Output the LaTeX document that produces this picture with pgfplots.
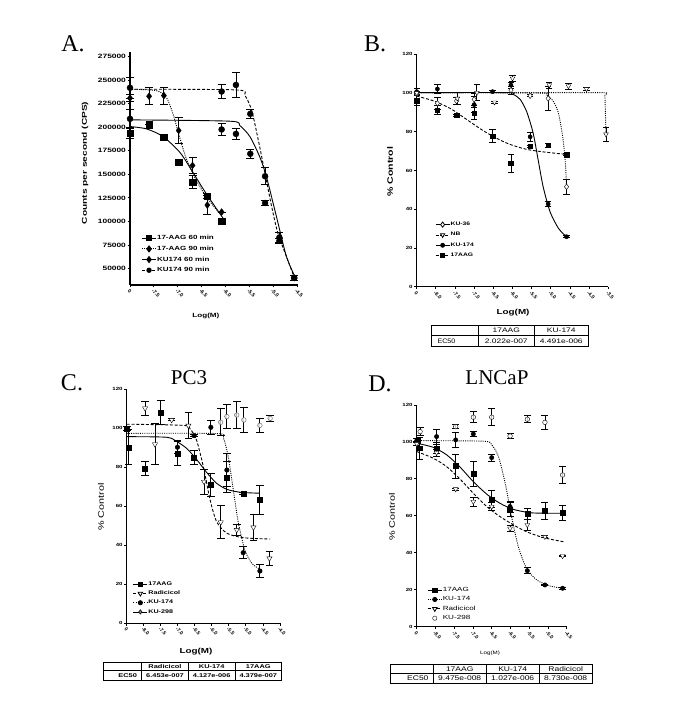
\documentclass[border=0pt]{standalone}
\usepackage{fontspec}
\setmainfont{Liberation Serif}
\setsansfont{Liberation Sans}
\usepackage{pgfplots}
\pgfplotsset{compat=1.18}
\usetikzlibrary{plotmarks}
\newcommand{\sx}[2][1.35]{\scalebox{#1}[1]{#2}}
\pgfplotsset{
  gp/.style={
    scale only axis, anchor=south west,
    axis x line*=bottom, axis y line*=left,
    axis line style={line width=1.1pt,-},
    tick align=outside, major tick length=2.5pt,
    tick style={line width=0.9pt,black},
    scaled y ticks=false, scaled x ticks=false,
    /pgf/number format/assume math mode=true,
    ticklabel style={font=\sffamily\bfseries\fontsize{4.5}{5}\selectfont},
    yticklabel style={xscale=1.35, inner sep=1pt},
    xticklabel style={rotate=-45, anchor=north west, inner sep=0.8pt, font=\sffamily\bfseries\fontsize{5}{5.5}\selectfont},
    clip=false,
    legend cell align=left,
    legend image code/.code={\draw[mark repeat=2,mark phase=2,##1] plot coordinates {(0pt,0pt) (7pt,0pt) (14pt,0pt)};},
    error bars/error bar style={line width=0.9pt},
    error bars/error mark options={line width=0.9pt, mark size=3.5pt, rotate=90},
    xlabel style={anchor=center},
    ylabel style={anchor=center},
  },
  pts/.style={only marks, black, error bars/y dir=both, error bars/y explicit},
  fit/.style={no marks, smooth, tension=0.45, line width=0.9pt, black},
  dsh/.style={dash pattern=on 3pt off 1.8pt},
  dtt/.style={dash pattern=on 1pt off 1.2pt},
}
\begin{document}
\begin{tikzpicture}
\useasboundingbox (0pt,0pt) rectangle (685pt,709pt);
\fill[white] (0pt,0pt) rectangle (685pt,709pt);

% ================= A =================
\begin{axis}[gp, at={(130pt,424pt)}, width=168pt, height=233pt,
  xmin=-8, xmax=-4.48, ymin=32500, ymax=280000,
  xtick={-8,-7.5,-7,-6.5,-6,-5.5,-5,-4.5},
  xticklabels={0,-7.5,-7.0,-6.5,-6.0,-5.5,-5.0,-4.5},
  ytick={50000,75000,100000,125000,150000,175000,200000,225000,250000,275000},
  yticklabels={50000,75000,100000,125000,150000,175000,200000,225000,250000,275000},
  yticklabel style={font=\sffamily\bfseries\fontsize{6.2}{7}\selectfont},
  xticklabel style={font=\sffamily\bfseries\fontsize{5.2}{5.6}\selectfont},
  error bars/error mark options={line width=0.9pt, mark size=4pt, rotate=90},
  ylabel={\sx[1.45]{Counts per second (CPS)}},
  ylabel style={at={(axis description cs:-0.268,0.524)}, font=\sffamily\bfseries\fontsize{7}{8}\selectfont},
  xlabel={\sx{Log(M)}},
  xlabel style={at={(axis description cs:0.452,-0.133)}, font=\sffamily\bfseries\fontsize{6}{7}\selectfont},
  legend style={draw=none, fill=none, at={(0.05,0.225)}, anchor=north west,
    font=\sffamily\bfseries\fontsize{6}{7}\selectfont, row sep=3.6pt, nodes={inner sep=0.6pt}},
]
\addlegendimage{mark=square*, solid, mark size=2.6pt, line width=0.9pt}
\addlegendentry{\sx[1.33]{17-AAG 60 min}}
\addlegendimage{mark=diamond*, dtt, mark size=3pt, line width=0.9pt, mark options={solid}}
\addlegendentry{\sx[1.33]{17-AAG 90 min}}
\addlegendimage{mark=diamond*, solid, mark size=3pt, line width=0.9pt}
\addlegendentry{\sx[1.33]{KU174 60 min}}
\addlegendimage{mark=*, dsh, mark size=2.2pt, line width=0.9pt, mark options={solid}}
\addlegendentry{\sx[1.33]{KU174 90 min}}
% fits
\addplot[fit] coordinates {(-8.0,200800) (-7.66,198400) (-7.31,190300) (-6.96,173700) (-6.75,157800) (-6.47,134800) (-6.19,113600) (-6.01,100600)};
\addplot[fit, dtt] coordinates {(-8.0,240400) (-7.45,239000) (-7.24,231900) (-7.10,214300) (-6.96,189500) (-6.82,166600) (-6.61,143600) (-6.40,126000) (-6.15,110100)};
\addplot[fit] coordinates {(-8.0,207900) (-5.91,206500) (-5.70,201900) (-5.49,190300) (-5.28,168400) (-5.14,147200) (-4.93,104800) (-4.72,62400) (-4.51,37700)};
\addplot[fit, dsh] coordinates {(-8.0,240400) (-5.77,239700) (-5.59,233700) (-5.45,217800) (-5.31,186000) (-5.17,150700) (-5.03,115400) (-4.90,87100) (-4.72,62400) (-4.55,39500)};
% points
\addplot[pts, mark=square*, mark size=3.2pt] coordinates {
(-8.0,194000) +- (0,6000) (-7.60,202600) +- (0,0) (-7.29,189500) +- (0,0) (-6.98,162700) +- (0,0)
(-6.69,141900) +- (0,7000) (-6.38,127000) +- (0,3000) (-6.08,100200) +- (0,2000)};
\addplot[pts, mark=diamond*, mark size=3.4pt] coordinates {
(-8.0,231000) +- (0,4000) (-7.60,233000) +- (0,9000) (-7.29,233700) +- (0,9000) (-6.98,196600) +- (0,14000)
(-6.69,159500) +- (0,9000) (-6.38,117400) +- (0,10000) (-6.08,110000) +- (0,0)};
\addplot[pts, mark=*, mark size=3pt] coordinates {
(-8.0,209000) +- (0,10000) (-6.08,197700) +- (0,6000) (-5.78,193000) +- (0,6000) (-5.48,171900) +- (0,5000)
(-5.17,119600) +- (0,3000) (-4.87,79400) +- (0,3000) (-4.56,40000) +- (0,3000)};
\addplot[pts, mark=*, mark size=3pt] coordinates {
(-8.0,242000) +- (0,11000) (-6.08,238000) +- (0,7000) (-5.78,245000) +- (0,13000) (-5.48,214300) +- (0,5000)
(-5.17,148000) +- (0,9000) (-4.87,83000) +- (0,5000) (-4.56,40000) +- (0,3000)};
\end{axis}

% ================= B =================
\begin{axis}[gp, at={(416.7pt,422.3pt)}, width=191.6pt, height=232.4pt,
  xmin=-8.5, xmax=-3.5, ymin=0, ymax=120,
  xtick={-8.5,-8,-7.5,-7,-6.5,-6,-5.5,-5,-4.5,-4,-3.5},
  xticklabels={0,-8.0,-7.5,-7.0,-6.5,-6.0,-5.5,-5.0,-4.5,-4.0,-3.5},
  ytick={0,20,40,60,80,100,120},
  error bars/error mark options={line width=0.9pt, mark size=3.2pt, rotate=90},
  ylabel={\sx{\% Control}},
  ylabel style={at={(axis description cs:-0.139,0.494)}, font=\sffamily\bfseries\fontsize{7.8}{9}\selectfont},
  xlabel={\sx{Log(M)}},
  xlabel style={at={(axis description cs:0.503,-0.113)}, font=\sffamily\bfseries\fontsize{7.3}{9}\selectfont},
  legend style={draw=none, fill=none, at={(0.08,0.29)}, anchor=north west,
    font=\sffamily\bfseries\fontsize{5}{6}\selectfont, row sep=4.2pt, nodes={inner sep=0.6pt}},
]
\addlegendimage{mark=diamond*, solid, mark size=2.6pt, line width=0.8pt, mark options={fill=white}}
\addlegendentry{\sx{KU-36}}
\addlegendimage{mark=triangle*, dsh, mark size=2.5pt, line width=0.8pt, mark options={solid, fill=white, rotate=180}}
\addlegendentry{\sx{NB}}
\addlegendimage{mark=*, solid, mark size=2pt, line width=0.8pt}
\addlegendentry{\sx{KU-174}}
\addlegendimage{mark=square*, dsh, mark size=2pt, line width=0.8pt, mark options={solid}}
\addlegendentry{\sx{17AAG}}
\addplot[fit] coordinates {(-8.5,100.2) (-6.15,100.2) (-5.98,99.3) (-5.80,96.7) (-5.63,90.4) (-5.46,79.2) (-5.33,65.4) (-5.20,51.6) (-5.02,38.7) (-4.80,30.1) (-4.59,25.8)};
\addplot[fit, dsh] coordinates {(-8.5,98.4) (-8.07,96.0) (-7.63,92.1) (-7.20,86.4) (-6.76,80.5) (-6.41,76.6) (-6.07,73.5) (-5.63,70.9) (-5.11,69.4) (-4.59,68.3)};
\addplot[fit, dtt] coordinates {(-8.5,100.2) (-5.37,100.0) (-5.11,99.0) (-4.93,95.5) (-4.80,89.5) (-4.69,77.4) (-4.62,63.7) (-4.59,51.6)};
\addplot[fit, dtt, tension=0.2] coordinates {(-8.5,100.2) (-3.67,100.2) (-3.59,98.5) (-3.56,78.7)};
\addplot[pts, mark=square*, mark size=2.3pt] coordinates {
(-8.5,96) +- (0,2.5) (-7.96,91.2) +- (0,2.5) (-7.46,88.6) +- (0,0.5) (-7.0,89.5) +- (0,3)
(-6.52,77.8) +- (0,3.5) (-6.04,63.7) +- (0,4.5) (-5.54,72.6) +- (0,0.5) (-5.07,73.1) +- (0,1) (-4.59,68.3) +- (0,0.5)};
\addplot[pts, mark=*, mark size=2.1pt] coordinates {
(-8.5,100.7) +- (0,1.5) (-7.96,102.1) +- (0,2.5) (-7.0,94) +- (0,4) (-6.52,100.7) +- (0,0.5)
(-6.04,104.1) +- (0,1.5) (-5.54,77.4) +- (0,2.5) (-5.07,42.7) +- (0,1.5) (-4.59,25.8) +- (0,0.5)};
\addplot[pts, mark=diamond*, mark size=2.8pt, mark options={fill=white}] coordinates {
(-8.5,99.5) +- (0,1) (-7.96,94.7) +- (0,3) (-7.46,95.9) +- (0,2) (-7.0,96.7) +- (0,3)
(-6.04,101.5) +- (0,2) (-5.54,98.6) +- (0,0.5) (-5.07,97.2) +- (0,6) (-4.59,51.6) +- (0,4)};
\addplot[pts, mark=triangle*, mark size=2.7pt, mark options={fill=white, rotate=180}] coordinates {
(-8.5,100) +- (0,1) (-7.44,97.2) +- (0,3) (-6.93,100.2) +- (0,4) (-6.47,95.2) +- (0,0.5)
(-6.0,107.6) +- (0,1.5) (-5.04,104.1) +- (0,1.5) (-4.54,103.6) +- (0,1.5) (-4.07,102.1) +- (0,1) (-3.56,78.7) +- (0,3.5)};
\end{axis}
% table B
\begin{scope}[line width=0.6pt]
\draw (431.7pt,384pt) rectangle (588.3pt,362.3pt);
\draw (431.7pt,373.3pt) -- (588.3pt,373.3pt);
\draw (478.3pt,384pt) -- (478.3pt,362.3pt);
\draw (534.3pt,384pt) -- (534.3pt,362.3pt);
\end{scope}
\begin{scope}[font=\sffamily\fontsize{6.5}{7}\selectfont]
\node at (506.3pt,378.6pt) {\sx[1.3]{17AAG}};
\node at (561.3pt,378.6pt) {\sx[1.3]{KU-174}};
\node[anchor=west] at (434pt,367.8pt) {\sx[1.1]{EC50}};
\node at (506.3pt,367.8pt) {\sx[1.3]{2.022e-007}};
\node at (561.3pt,367.8pt) {\sx[1.3]{4.491e-006}};
\end{scope}

% ================= C =================
\begin{axis}[gp, at={(126.7pt,85.7pt)}, width=153.3pt, height=234pt,
  xmin=-8.5, xmax=-4.0, ymin=0, ymax=120,
  xtick={-8.5,-8,-7.5,-7,-6.5,-6,-5.5,-5,-4.5,-4},
  xticklabels={0,-8.0,-7.5,-7.0,-6.5,-6.0,-5.5,-5.0,-4.5,-4.0},
  ytick={0,20,40,60,80,100,120},
  error bars/error mark options={line width=0.9pt, mark size=3.8pt, rotate=90},
  title={PC3},
  title style={at={(axis description cs:0.406,1.025)}, anchor=center, font=\rmfamily\fontsize{21}{22}\selectfont},
  ylabel={\sx{\% Control}},
  ylabel style={at={(axis description cs:-0.168,0.497)}, font=\sffamily\fontsize{8}{9}\selectfont},
  xlabel={\sx{Log(M)}},
  xlabel style={at={(axis description cs:0.452,-0.123)}, font=\sffamily\bfseries\fontsize{7.3}{9}\selectfont},
  legend style={draw=none, fill=none, at={(0.02,0.19)}, anchor=north west,
    font=\sffamily\bfseries\fontsize{5.3}{6}\selectfont, row sep=2.8pt, nodes={inner sep=0.6pt}},
]
\addlegendimage{mark=square*, solid, mark size=2.2pt, line width=0.8pt}
\addlegendentry{\sx{17AAG}}
\addlegendimage{mark=triangle*, dsh, mark size=2.6pt, line width=0.8pt, mark options={solid, fill=white, rotate=180}}
\addlegendentry{\sx{Radicicol}}
\addlegendimage{mark=*, dtt, mark size=2.1pt, line width=0.8pt, mark options={solid}}
\addlegendentry{\sx{KU-174}}
\addlegendimage{mark=diamond*, solid, mark size=2.2pt, line width=0.5pt, mark options={fill=gray}}
\addlegendentry{\sx{KU-298}}
\addplot[fit] coordinates {(-8.5,95.7) (-7.33,95.4) (-7.03,93.2) (-6.74,89.7) (-6.45,84.1) (-6.15,77.3) (-5.86,71.8) (-5.56,68.7) (-5.17,67.2) (-4.59,66.7)};
\addplot[fit, dsh] coordinates {(-8.5,102.1) (-6.84,101.5) (-6.64,99.7) (-6.45,94.0) (-6.25,80.3) (-6.05,63.2) (-5.86,52.1) (-5.56,46.2) (-5.08,43.9) (-4.29,43.2)};
\addplot[fit, dtt] coordinates {(-8.5,97.4) (-5.86,97.3) (-5.66,94.9) (-5.52,85.5) (-5.37,68.4) (-5.22,51.3) (-5.03,37.6) (-4.83,30.8) (-4.59,27.7)};
\addplot[pts, mark=square*, mark size=2.5pt] coordinates {
(-8.5,100) +- (0,1) (-8.45,90.3) +- (0,9) (-7.96,79.5) +- (0,3.5) (-7.50,108.2) +- (0,6)
(-7.01,87.2) +- (0,6.5) (-6.52,85.0) +- (0,3.5) (-6.03,70.9) +- (0,6) (-5.56,74.9) +- (0,8)
(-5.08,66.7) +- (0,0.5) (-4.59,63.2) +- (0,7.5)};
\addplot[pts, mark=triangle*, mark size=3pt, mark options={fill=white, rotate=180}] coordinates {
(-7.96,110.3) +- (0,3.5) (-7.67,91.8) +- (0,10.5) (-7.18,104.3) +- (0,0.5) (-6.69,101.4) +- (0,6.5)
(-6.23,72.6) +- (0,6.5) (-5.74,51.8) +- (0,8.5) (-5.27,47.9) +- (0,3) (-4.78,49.2) +- (0,6.5) (-4.31,33.3) +- (0,3.5)};
\addplot[pts, mark=*, mark size=2.3pt] coordinates {
(-8.5,100) +- (0,1) (-7.01,90.3) +- (0,3) (-6.52,96.2) +- (0,0.5) (-6.03,100.5) +- (0,3.5)
(-5.56,78.6) +- (0,8.5) (-5.08,36.2) +- (0,3) (-4.59,26.8) +- (0,3.5)};
\addplot[pts, mark=halfcircle*, mark size=2.3pt, mark options={fill=gray!25, draw=gray!70!black, rotate=90}] coordinates {
(-5.74,103.1) +- (0,7) (-5.56,106) +- (0,6) (-5.27,106.8) +- (0,7) (-5.06,104.3) +- (0,6.5)
(-4.59,101.5) +- (0,3.5) (-4.29,105.1) +- (0,1.5)};
\end{axis}
% table C
\begin{scope}[line width=0.6pt]
\draw (103.3pt,47pt) rectangle (281.7pt,29pt);
\draw (103.3pt,38.3pt) -- (281.7pt,38.3pt);
\draw (141.7pt,47pt) -- (141.7pt,29pt);
\draw (188.3pt,47pt) -- (188.3pt,29pt);
\draw (235pt,47pt) -- (235pt,29pt);
\end{scope}
\begin{scope}[font=\sffamily\bfseries\fontsize{5.5}{6}\selectfont]
\node at (165pt,42.6pt) {\sx{Radicicol}};
\node at (211.7pt,42.6pt) {\sx{KU-174}};
\node at (258.3pt,42.6pt) {\sx{17AAG}};
\node[anchor=east] at (140.5pt,33.6pt) {\sx{EC50}};
\node at (165pt,33.6pt) {\sx{6.453e-007}};
\node at (211.7pt,33.6pt) {\sx{4.127e-006}};
\node at (258.3pt,33.6pt) {\sx{4.379e-007}};
\end{scope}

% ================= D =================
\begin{axis}[gp, at={(416.7pt,82.3pt)}, width=150pt, height=221.7pt,
  xmin=-8.5, xmax=-4.5, ymin=0, ymax=120,
  xtick={-8.5,-8,-7.5,-7,-6.5,-6,-5.5,-5,-4.5},
  xticklabels={0,-8.0,-7.5,-7.0,-6.5,-6.0,-5.5,-5.0,-4.5},
  ytick={0,20,40,60,80,100,120},
  error bars/error mark options={line width=0.9pt, mark size=3.5pt, rotate=90},
  title={LNCaP},
  title style={at={(axis description cs:0.535,1.095)}, anchor=center, font=\rmfamily\fontsize{21}{22}\selectfont},
  ylabel={\sx{\% Control}},
  ylabel style={at={(axis description cs:-0.165,0.495)}, font=\sffamily\fontsize{8}{9}\selectfont},
  xlabel={\sx[1.3]{Log(M)}},
  xlabel style={at={(axis description cs:0.489,-0.119)}, font=\sffamily\fontsize{4.8}{6}\selectfont},
  legend style={draw=none, fill=none, at={(0.05,0.19)}, anchor=north west,
    font=\sffamily\fontsize{6}{7}\selectfont, row sep=2.4pt, nodes={inner sep=0.6pt}},
]
\addlegendimage{mark=square*, solid, mark size=2.2pt, line width=0.8pt}
\addlegendentry{\sx{17AAG}}
\addlegendimage{mark=*, dtt, mark size=2.1pt, line width=0.8pt, mark options={solid}}
\addlegendentry{\sx{KU-174}}
\addlegendimage{mark=triangle*, dsh, mark size=2.6pt, line width=0.8pt, mark options={solid, fill=white, rotate=180}}
\addlegendentry{\sx{Radicicol}}
\addlegendimage{only marks, mark=halfcircle*, mark size=2.2pt, mark options={fill=white, rotate=90}}
\addlegendentry{\sx{KU-298}}
\addplot[fit] coordinates {(-8.5,99.3) (-8.06,97.1) (-7.70,93.0) (-7.34,86.3) (-6.99,78.5) (-6.63,71.7) (-6.28,66.8) (-5.92,63.5) (-5.48,61.7) (-5.03,61.4) (-4.59,61.4)};
\addplot[fit, dtt] coordinates {(-8.5,100.7) (-6.72,100.4) (-6.5,98.4) (-6.32,92.1) (-6.14,77.6) (-5.97,59.6) (-5.79,43.3) (-5.57,31.6) (-5.30,25.3) (-4.94,22.0) (-4.59,20.8)};
\addplot[fit, dsh] coordinates {(-8.5,94.8) (-8.06,91.2) (-7.70,86.6) (-7.34,79.8) (-6.99,72.2) (-6.63,65.0) (-6.28,59.6) (-5.92,55.1) (-5.57,51.4) (-5.12,48.2) (-4.59,46.0)};
\addplot[pts, mark=square*, mark size=2.4pt] coordinates {
(-8.48,100.7) +- (0,1) (-8.43,96.6) +- (0,6) (-7.97,96.6) +- (0,3) (-7.46,87.0) +- (0,6.5)
(-6.99,82.7) +- (0,7) (-6.5,69.0) +- (0,4.5) (-6.01,63.5) +- (0,4) (-5.55,61.0) +- (0,3)
(-5.08,62.8) +- (0,4.5) (-4.61,61.7) +- (0,4)};
\addplot[pts, mark=*, mark size=2.2pt] coordinates {
(-8.5,100.7) +- (0,1) (-7.97,102.9) +- (0,4) (-7.46,101.1) +- (0,4) (-6.99,104.3) +- (0,1.5)
(-6.5,91.5) +- (0,2) (-6.01,65.0) +- (0,3) (-5.55,30.3) +- (0,1.5) (-5.08,22.6) +- (0,0.5) (-4.61,20.8) +- (0,0.5)};
\addplot[pts, mark=triangle*, mark size=2.8pt, mark options={fill=white, rotate=180}] coordinates {
(-8.5,99) +- (0,1) (-7.97,94.2) +- (0,2) (-7.46,74.5) +- (0,0.5) (-6.99,67.7) +- (0,2.5)
(-6.5,65.0) +- (0,2) (-6.01,53.2) +- (0,1.5) (-5.55,55.1) +- (0,3) (-5.08,48.7) +- (0,0.5) (-4.61,38.3) +- (0,0.5)};
\addplot[pts, mark=halfcircle*, mark size=2.3pt, mark options={fill=white, rotate=90}] coordinates {
(-8.41,105.6) +- (0,2) (-7.46,108.3) +- (0,1) (-6.99,113.4) +- (0,3) (-6.5,113.4) +- (0,4.5)
(-6.01,103.2) +- (0,1.5) (-5.55,112.3) +- (0,2) (-5.08,110.6) +- (0,4) (-4.61,82.1) +- (0,4.5)};
\end{axis}
% table D
\begin{scope}[line width=0.6pt]
\draw (390.7pt,44.7pt) rectangle (592pt,26pt);
\draw (390.7pt,35.5pt) -- (592pt,35.5pt);
\draw (433.3pt,44.7pt) -- (433.3pt,26pt);
\draw (486pt,44.7pt) -- (486pt,26pt);
\draw (539.3pt,44.7pt) -- (539.3pt,26pt);
\end{scope}
\begin{scope}[font=\sffamily\fontsize{6.8}{7}\selectfont]
\node at (459.7pt,40.1pt) {\sx[1.25]{17AAG}};
\node at (512.7pt,40.1pt) {\sx[1.25]{KU-174}};
\node at (565.7pt,40.1pt) {\sx[1.25]{Radicicol}};
\node[anchor=east] at (432pt,30.8pt) {\sx[1.25]{EC50}};
\node at (459.7pt,30.8pt) {\sx[1.25]{9.475e-008}};
\node at (512.7pt,30.8pt) {\sx[1.25]{1.027e-006}};
\node at (565.7pt,30.8pt) {\sx[1.25]{8.730e-008}};
\end{scope}

% panel letters
\begin{scope}[font=\rmfamily\fontsize{24}{26}\selectfont]
\node at (73pt,665pt) {A.};
\node at (375pt,665pt) {B.};
\node at (72pt,326pt) {C.};
\node at (380pt,325pt) {D.};
\end{scope}
\end{tikzpicture}
\end{document}
